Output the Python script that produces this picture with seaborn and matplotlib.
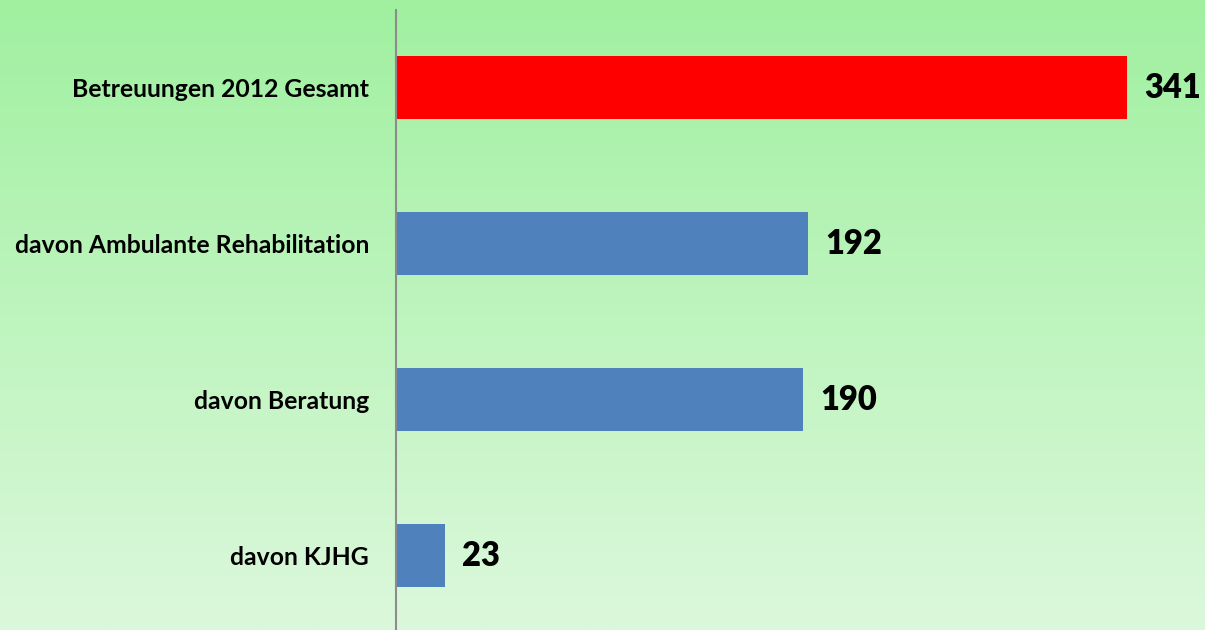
import numpy as np
import pandas as pd
import matplotlib
matplotlib.use("Agg")
import matplotlib.pyplot as plt
import seaborn as sns
from matplotlib.colors import LinearSegmentedColormap

# data
categories = ["Betreuungen 2012 Gesamt", "davon Ambulante Rehabilitation",
              "davon Beratung", "davon KJHG"]
values = [341, 192, 190, 23]
bar_colors = ["#ff0000", "#4f81bd", "#4f81bd", "#4f81bd"]

df = pd.DataFrame({"kategorie": categories, "anzahl": values})

sns.set_style("white")
plt.rcParams["font.family"] = ["Lato", "DejaVu Sans"]

fig = plt.figure(figsize=(12.05, 6.3), dpi=100)

# green gradient background
bg = fig.add_axes([0, 0, 1, 1], zorder=0)
cmap = LinearSegmentedColormap.from_list("gr", ["#a0f0a0", "#dcf8dc"])
bg.imshow(np.linspace(0, 1, 256).reshape(-1, 1), aspect="auto", cmap=cmap,
          extent=[0, 1, 0, 1], origin="upper")
bg.axis("off")

ax = fig.add_axes([396 / 1205, -3.5 / 630, 1 - 396 / 1205, 624 / 630], zorder=1)
ax.patch.set_alpha(0)
sns.barplot(data=df, x="anzahl", y="kategorie", hue="kategorie",
            palette=bar_colors, width=0.404, legend=False, ax=ax,
            saturation=1, linewidth=0)
ax.set_xlim(0, 377.3)
ax.set_ylim(3.5, -0.5)
ax.set_xlabel("")
ax.set_ylabel("")
ax.set_xticks([])
ax.tick_params(axis="y", length=0, pad=19.5)
for lbl in ax.get_yticklabels():
    lbl.set_fontsize(17.8)
    lbl.set_fontweight("bold")
    lbl.set_color("black")
for s in ["top", "right", "bottom"]:
    ax.spines[s].set_visible(False)
ax.spines["left"].set_color("#8c8c8c")
ax.spines["left"].set_linewidth(1.5)

for i, v in enumerate(values):
    ax.text(v + 8, i, str(v), va="center", ha="left",
            fontsize=23.5, fontweight="heavy", color="black")

fig.savefig("out.png", dpi=100)
